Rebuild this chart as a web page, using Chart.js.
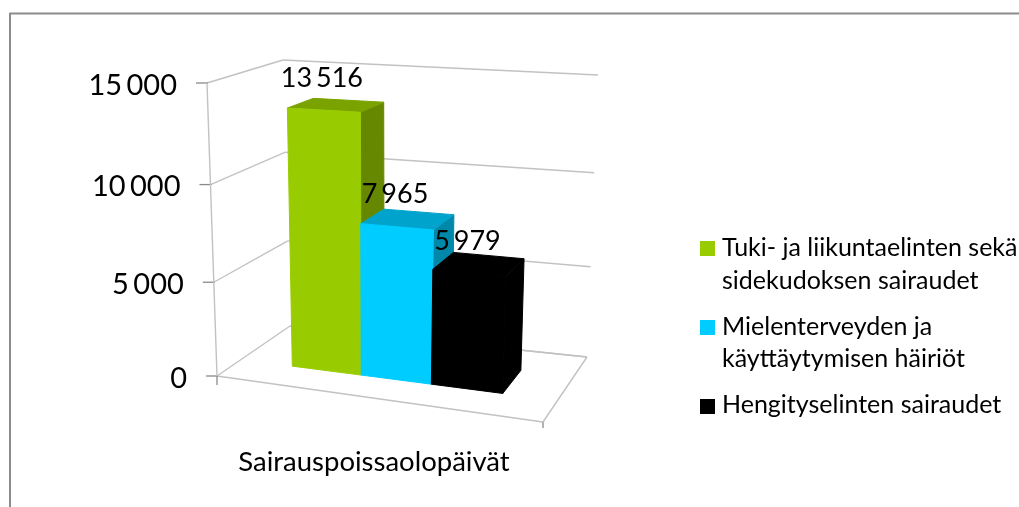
<!DOCTYPE html>
<html><head><meta charset="utf-8">
<style>html,body{margin:0;padding:0;background:#fff}#w{width:1019px;height:507px;position:relative}</style>
<script src="https://cdn.jsdelivr.net/npm/chart.js@4/dist/chart.umd.min.js"></script>
</head><body><div id="w"><canvas id="c" width="1019" height="507"></canvas></div>
<script>
const categories = ['Sairauspoissaolopäivät'];
const seriesNames = [['Tuki- ja liikuntaelinten sekä','sidekudoksen sairaudet'],['Mielenterveyden ja','käyttäytymisen häiriöt'],['Hengityselinten sairaudet']];
const seriesValues = [13516, 7965, 5979];
const frontColors = ['#99CC00','#00CCFF','#000000'];
const topColors = ['#7AA300','#00A3CC','#000000'];
const sideColors = ['#668800','#0088AA','#000000'];
const axisMax = 15000, axisStep = 5000;
const FONT = 'Lato, "Open Sans", sans-serif';

const box = {
  b:{fl:[217,376],bl:[290,326],br:[587,357],fr:[543,422]},
  t:{fl:[207,83],bl:[283,60],br:[598,75],fr:[556,100]}
};
const lerp=(p,q,t)=>[p[0]+(q[0]-p[0])*t,p[1]+(q[1]-p[1])*t];
const warpH=h=>h-0.06*h*(1-h);
const warpA=a=>a-0.04*a*(1-a);
function P(a,h,d){
  const layer=k=>lerp(lerp(box[k].fl,box[k].bl,d),lerp(box[k].fr,box[k].br,d),a);
  return lerp(layer('b'),layer('t'),warpH(h));
}
const D0=0.33,D1=0.70;
function poly(ctx,pts,fill){ctx.beginPath();pts.forEach((p,i)=>i?ctx.lineTo(p[0],p[1]):ctx.moveTo(p[0],p[1]));ctx.closePath();ctx.fillStyle=fill;ctx.fill();ctx.strokeStyle=fill;ctx.lineWidth=1;ctx.lineJoin='round';ctx.stroke();}
function seg(ctx,p,q,col,w){ctx.beginPath();ctx.moveTo(p[0],p[1]);ctx.lineTo(q[0],q[1]);ctx.strokeStyle=col;ctx.lineWidth=w;ctx.stroke();}
function text(ctx,s,x,y,size,align,ws){ctx.font=size+'px '+FONT;ctx.wordSpacing=(ws||0)+'px';ctx.fillStyle='#000';ctx.textAlign=align||'left';ctx.textBaseline='middle';ctx.fillText(s,x,y);ctx.wordSpacing='0px';}

const scene={
  id:'scene',
  beforeDatasetDraw(){return false;},
  beforeDatasetsDraw(chart){
    const ctx=chart.ctx,ys=chart.scales.y;
    ctx.save();
    seg(ctx,[9.5,13.5],[1019,13.5],'#8c8c8c',2);
    seg(ctx,[10,13],[10,507],'#8c8c8c',2);
    const GRID='#c2c2c2';
    ys.ticks.forEach(t=>{
      const h=t.value/axisMax;
      seg(ctx,P(0,h,0),P(0,h,1),GRID,1.4);
      seg(ctx,P(0,h,1),P(1,h,1),GRID,1.4);
      const p=P(0,h,0);
      seg(ctx,[p[0]-11,p[1]],[p[0]+1,p[1]],'#8a8a8a',1.3);
      text(ctx,t.label,p[0]-30,p[1]+2.5,29,'right',-3);
    });
    seg(ctx,P(0,0,0),P(0,1,0),GRID,1.4);
    seg(ctx,P(0,0,0),P(1,0,0),GRID,1.4);
    seg(ctx,P(1,0,0),P(1,0,1),GRID,1.4);
    seg(ctx,P(0,0,1),P(1,0,1),GRID,1.4);
    const fl=P(0,0,0),fr=P(1,0,0);
    seg(ctx,fl,[fl[0],fl[1]+9],'#8a8a8a',1.3);
    seg(ctx,fr,[fr[0],fr[1]+6],'#8a8a8a',1.3);
    ctx.restore();
  },
  afterDatasetsDraw(chart){
    const ctx=chart.ctx,area=chart.chartArea;
    ctx.save();
    const tops=[];
    chart.data.datasets.forEach((ds,i)=>{
      const el=chart.getDatasetMeta(i).data[0];
      const a0=warpA((el.x-el.width/2-area.left)/area.width);
      const a1=warpA((el.x+el.width/2-area.left)/area.width);
      const h=(area.bottom-el.y)/area.height;
      poly(ctx,[P(a1,0,D0),P(a1,0,D1),P(a1,h,D1),P(a1,h,D0)],sideColors[i]);
      poly(ctx,[P(a0,h,D0),P(a0,h,D1),P(a1,h,D1),P(a1,h,D0)],topColors[i]);
      poly(ctx,[P(a0,0,D0),P(a1,0,D0),P(a1,h,D0),P(a0,h,D0)],ds.backgroundColor);
      tops.push([lerp(P(a0,h,D0),P(a1,h,D0),0.5),ds.data[0]]);
    });
    tops.forEach(([p,v])=>text(ctx,fmt(v),p[0]-2,p[1]-32,27,'center',-3));
    text(ctx,chart.data.labels[0],374,462,27.5,'center');
    const rows=[[241,[248,281]],[320,[327,359]],[399,[405]]];
    chart.data.datasets.forEach((ds,i)=>{
      ctx.fillStyle=ds.backgroundColor;
      ctx.fillRect(700,rows[i][0],15,15);
      ds.label.forEach((l,j)=>text(ctx,l,722,rows[i][1][j],25,'left'));
    });
    ctx.restore();
  }
};
const fmt=v=>String(v).replace(/\B(?=(\d{3})+$)/g,' ');
new Chart(document.getElementById('c'),{
  type:'bar',
  data:{labels:categories,datasets:seriesValues.map((v,i)=>({label:seriesNames[i],data:[v],backgroundColor:frontColors[i],categoryPercentage:0.665,barPercentage:1}))},
  options:{
    responsive:false,animation:false,
    layout:{padding:{left:217,right:476,top:83,bottom:131}},
    plugins:{legend:{display:false},tooltip:{enabled:false}},
    scales:{
      x:{display:false},
      y:{display:false,min:0,max:axisMax,ticks:{stepSize:axisStep,callback:fmt}}
    }
  },
  plugins:[scene]
});
</script></body></html>
